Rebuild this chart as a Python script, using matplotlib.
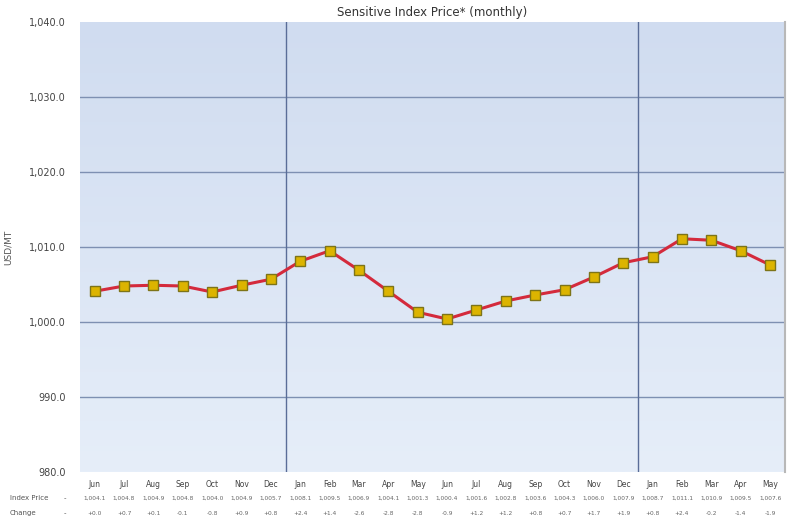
import numpy as np
import matplotlib
matplotlib.use("Agg")
import matplotlib.pyplot as plt
from matplotlib.colors import LinearSegmentedColormap
from matplotlib.ticker import FuncFormatter

# monthly values
months = ["Jun", "Jul", "Aug", "Sep", "Oct", "Nov", "Dec",
          "Jan", "Feb", "Mar", "Apr", "May", "Jun", "Jul", "Aug", "Sep", "Oct", "Nov", "Dec",
          "Jan", "Feb", "Mar", "Apr", "May"]
price = [1004.1, 1004.8, 1004.9, 1004.8, 1004.0, 1004.9, 1005.7,
         1008.1, 1009.5, 1006.9, 1004.1, 1001.3, 1000.4, 1001.6, 1002.8, 1003.6, 1004.3, 1006.0, 1007.9,
         1008.7, 1011.1, 1010.9, 1009.5, 1007.6]
year_breaks = [6.5, 18.5]
y_ticks = [980, 990, 1000, 1010, 1020, 1030, 1040]

change = [0.0] + [price[i] - price[i - 1] for i in range(1, len(price))]

fig = plt.figure(figsize=(8, 5.32), dpi=100)
ax = fig.add_axes([0.1, 0.1128, 0.881, 0.8458])
x = np.arange(len(price))

# gradient plot background
cmap = LinearSegmentedColormap.from_list("bg", ["#e6eef9", "#d0dcf0"])
grad = np.linspace(0, 1, 256).reshape(-1, 1)
ax.imshow(grad, cmap=cmap, origin="lower", aspect="auto",
          extent=[-0.5, len(price) - 0.5, 980, 1040], zorder=0)

for yv in y_ticks[1:-1]:
    ax.axhline(yv, color="#7e90b2", lw=1.0, zorder=1)
for xb in year_breaks:
    ax.axvline(xb, color="#5a6d98", lw=1.0, zorder=1)

ax.plot(x, price, color="#d42a3c", lw=2.2, zorder=2)
ax.plot(x, price, ls="none", marker="s", ms=7.5, mfc="#dcb400", mec="#7d7418", mew=1.0, zorder=3)

ax.set_xlim(-0.5, len(price) - 0.5)
ax.set_ylim(980, 1040)
ax.set_yticks(y_ticks)
ax.yaxis.set_major_formatter(FuncFormatter(lambda v, p: f"{v:,.1f}"))
ax.set_xticks(x)
ax.set_xticklabels(months, fontsize=5.5, color="#444444")
ax.tick_params(axis="y", labelsize=7, colors="#444444", length=0, pad=10)
ax.tick_params(axis="x", length=0, pad=6)
for s in ["top", "left", "bottom"]:
    ax.spines[s].set_visible(False)
ax.spines["right"].set_color("#b8b8b8")
ax.spines["right"].set_linewidth(1.5)

ax.set_ylabel("USD/MT", fontsize=6.5, color="#555555", labelpad=12)
ax.set_title("Sensitive Index Price* (monthly)", fontsize=8.5, color="#333333", pad=4)

# data table rows under the axis
fig.text(0.012, 0.06, "Index Price", fontsize=5, color="#555555")
fig.text(0.012, 0.032, "Change", fontsize=5, color="#555555")
fig.text(0.08, 0.06, "-", fontsize=5, color="#555555")
fig.text(0.08, 0.032, "-", fontsize=5, color="#555555")
for i in range(len(price)):
    xf = 0.1 + 0.881 * (i + 0.5) / len(price)
    fig.text(xf, 0.06, f"{price[i]:,.1f}", fontsize=4.2, color="#666666", ha="center")
    fig.text(xf, 0.032, f"{change[i]:+.1f}", fontsize=4.2, color="#666666", ha="center")

fig.savefig("out.png", dpi=100)
